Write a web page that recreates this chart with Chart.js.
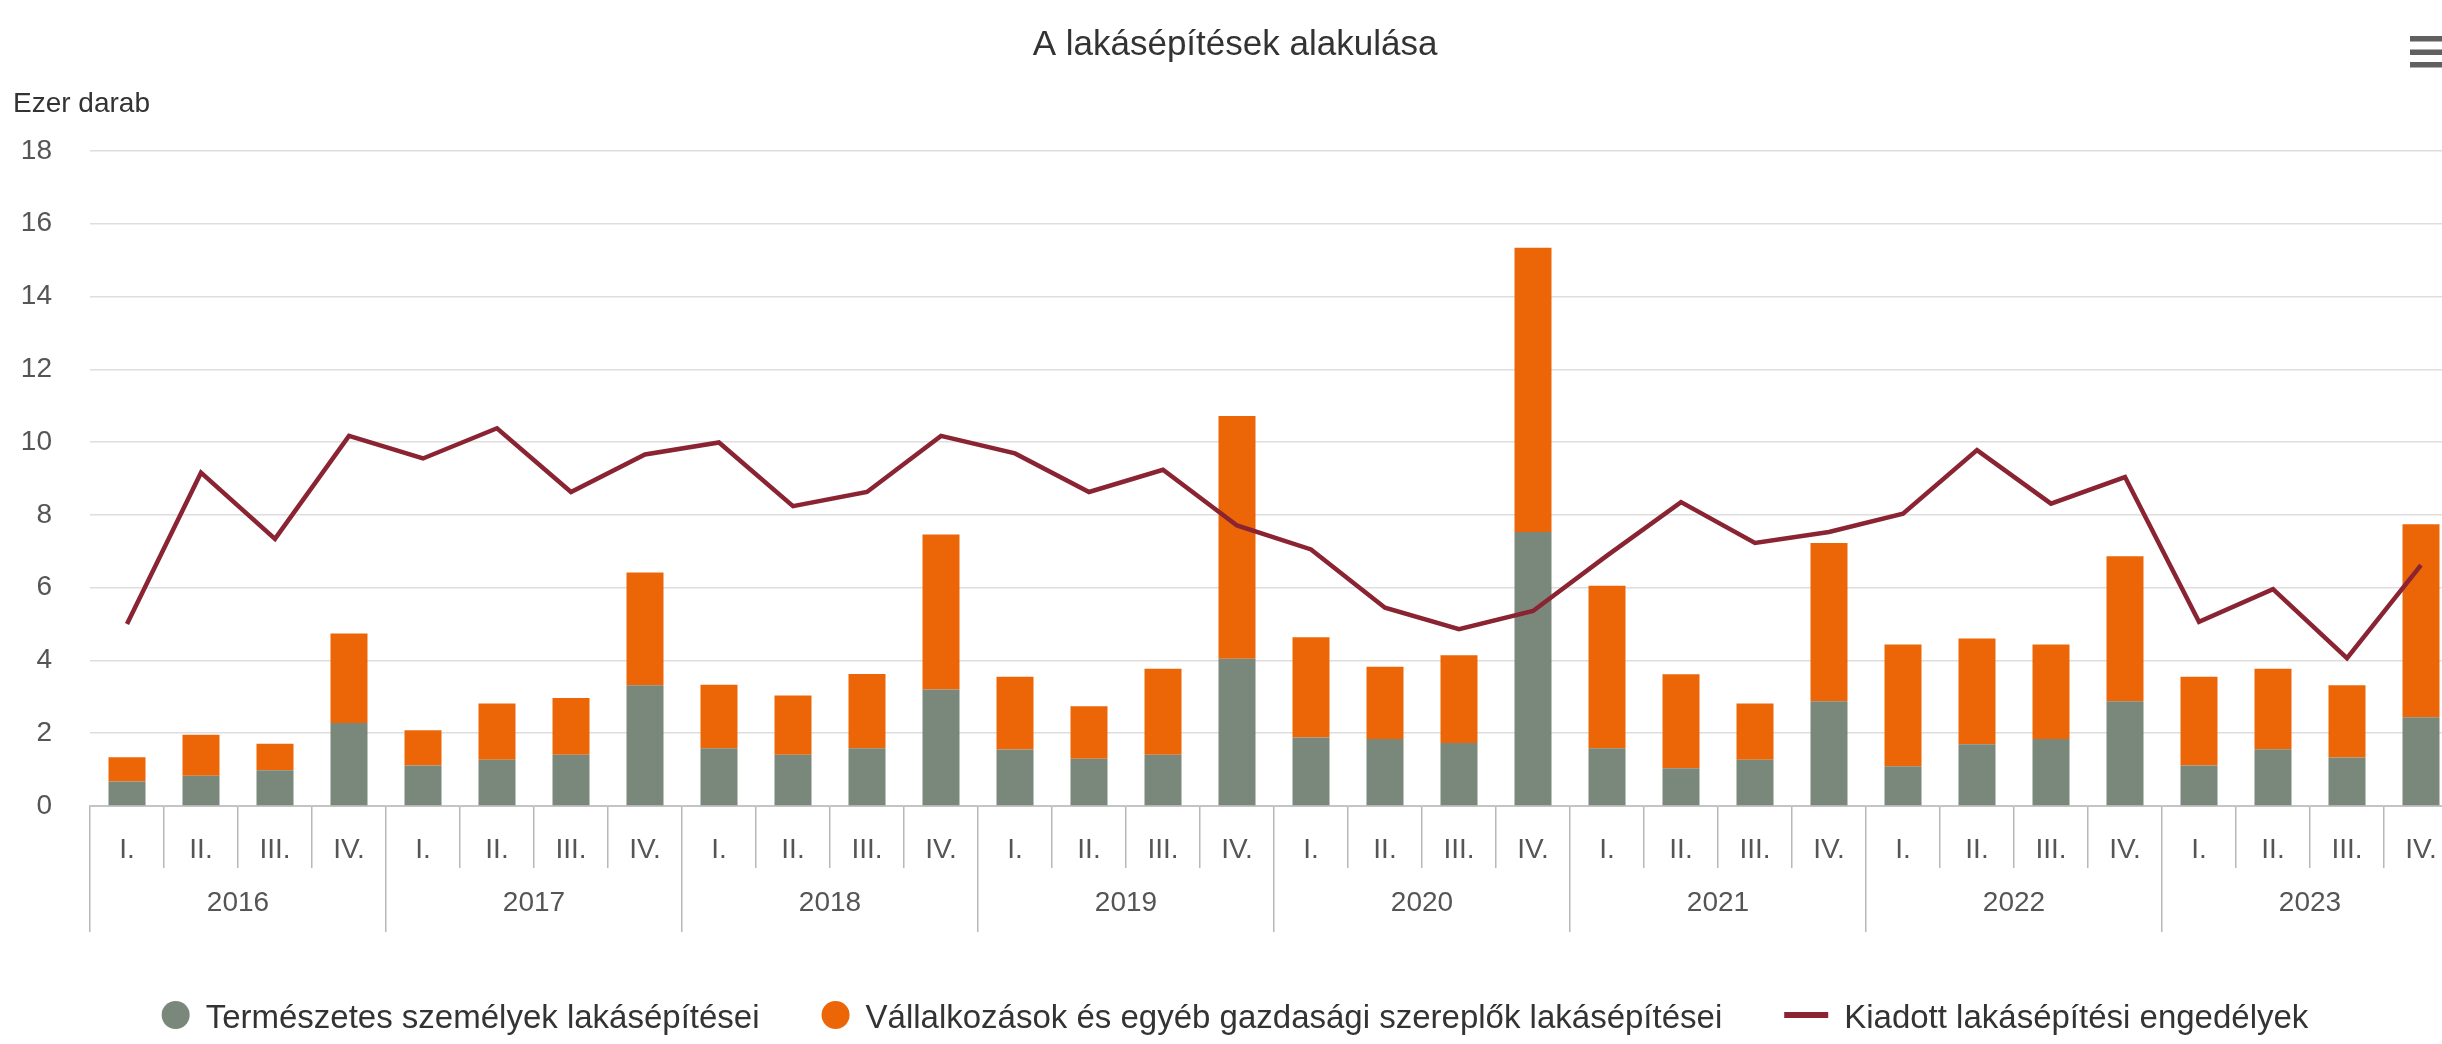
<!DOCTYPE html>
<html lang="hu">
<head>
<meta charset="utf-8">
<title>A lakásépítések alakulása</title>
<script src="https://cdn.jsdelivr.net/npm/chart.js@4.4.1/dist/chart.umd.min.js"></script>
<style>
  html, body { margin: 0; padding: 0; background: #ffffff; overflow: hidden; }
  #wrap { position: absolute; left: 0; top: 0; width: 2470px; height: 1044px; }
</style>
</head>
<body>
<div id="wrap"><canvas id="chart" width="2470" height="1044"></canvas></div>
<script>
// Évek és negyedévek
const years = ['2016', '2017', '2018', '2019', '2020', '2021', '2022', '2023'];
const quarters = ['I.', 'II.', 'III.', 'IV.'];

// Ezer darab, negyedévente (2016 I. – 2023 IV.)
const termeszetes = [
  0.67, 0.83, 0.98, 2.28,
  1.11, 1.27, 1.41, 3.32,
  1.59, 1.41, 1.59, 3.20,
  1.55, 1.30, 1.41, 4.05,
  1.88, 1.84, 1.73, 7.53,
  1.59, 1.04, 1.27, 2.88,
  1.09, 1.70, 1.84, 2.88,
  1.11, 1.56, 1.33, 2.44
];
const vallalkozasok = [
  0.67, 1.13, 0.73, 2.46,
  0.97, 1.55, 1.56, 3.10,
  1.74, 1.63, 2.04, 4.26,
  2.00, 1.44, 2.36, 6.67,
  2.76, 1.99, 2.41, 7.81,
  4.46, 2.58, 1.55, 4.35,
  3.35, 2.90, 2.60, 3.98,
  2.44, 2.21, 1.99, 5.30
];
const engedelyek = [
  5.00, 9.16, 7.34, 10.17,
  9.55, 10.38, 8.63, 9.66,
  9.99, 8.24, 8.63, 10.17,
  9.69, 8.63, 9.24, 7.71,
  7.05, 5.45, 4.86, 5.36,
  6.88, 8.35, 7.23, 7.53,
  8.03, 9.78, 8.31, 9.04,
  5.06, 5.96, 4.06, 6.62
];
const yMin = 0, yMax = 18, yStep = 2;

const seriesNames = [
  'Természetes személyek lakásépítései',
  'Vállalkozások és egyéb gazdasági szereplők lakásépítései',
  'Kiadott lakásépítési engedélyek'
];
const COLORS = { green: '#7a887c', orange: '#ec6608', line: '#8a2432' };
const FONT = '"Liberation Sans", Arial, Helvetica, sans-serif';

const labels = years.flatMap(() => quarters);

// Cím, mértékegység, jelmagyarázat és menü ikon kirajzolása
const decorations = {
  id: 'decorations',
  afterDraw(chart) {
    const ctx = chart.ctx;
    const cx = chart.width / 2;
    ctx.save();

    // cím
    ctx.fillStyle = '#333333';
    ctx.font = '35px ' + FONT;
    ctx.textAlign = 'center';
    ctx.textBaseline = 'alphabetic';
    ctx.fillText('A lakásépítések alakulása', cx, 55);

    // mértékegység
    ctx.font = '28px ' + FONT;
    ctx.textAlign = 'left';
    ctx.fillText('Ezer darab', 13, 112);

    // menü ikon
    ctx.fillStyle = '#606060';
    [36, 49.5, 62].forEach(y => ctx.fillRect(2410, y, 36, 5.5));

    // jelmagyarázat
    ctx.font = '33px ' + FONT;
    const items = [
      { text: seriesNames[0], color: COLORS.green, kind: 'circle', w: 28 },
      { text: seriesNames[1], color: COLORS.orange, kind: 'circle', w: 28 },
      { text: seriesNames[2], color: COLORS.line, kind: 'line', w: 44 }
    ];
    const gap = 16, spacing = 62;
    items.forEach(it => { it.tw = ctx.measureText(it.text).width; });
    const total = items.reduce((s, it) => s + it.w + gap + it.tw, 0) + spacing * (items.length - 1);
    let x = cx - total / 2;
    const my = 1015, baseY = 1028;
    items.forEach(it => {
      ctx.fillStyle = it.color;
      if (it.kind === 'circle') {
        ctx.beginPath();
        ctx.arc(x + it.w / 2, my, it.w / 2, 0, Math.PI * 2);
        ctx.fill();
      } else {
        ctx.fillRect(x, my - 3, it.w, 6);
      }
      ctx.fillStyle = '#333333';
      ctx.textAlign = 'left';
      ctx.fillText(it.text, x + it.w + gap, baseY);
      x += it.w + gap + it.tw + spacing;
    });
    ctx.restore();
  }
};

new Chart(document.getElementById('chart'), {
  data: {
    labels: labels,
    datasets: [
      {
        type: 'line',
        label: seriesNames[2],
        data: engedelyek,
        borderColor: COLORS.line,
        backgroundColor: COLORS.line,
        borderWidth: 4.5,
        pointRadius: 0,
        tension: 0,
        stack: 'engedely',
        order: 0
      },
      {
        type: 'bar',
        label: seriesNames[0],
        data: termeszetes,
        backgroundColor: COLORS.green,
        stack: 'lakas',
        order: 1,
        categoryPercentage: 0.5,
        barPercentage: 1.0
      },
      {
        type: 'bar',
        label: seriesNames[1],
        data: vallalkozasok,
        backgroundColor: COLORS.orange,
        stack: 'lakas',
        order: 1,
        categoryPercentage: 0.5,
        barPercentage: 1.0
      }
    ]
  },
  options: {
    responsive: false,
    animation: false,
    devicePixelRatio: 1,
    layout: { padding: { top: 151, bottom: 112, left: 0, right: 12 } },
    plugins: {
      legend: { display: false },
      title: { display: false },
      tooltip: { enabled: false }
    },
    scales: {
      x: {
        type: 'category',
        position: 'bottom',
        stacked: true,
        offset: true,
        weight: 0,
        grid: {
          offset: true,
          drawOnChartArea: false,
          drawTicks: true,
          tickLength: 62,
          color: '#b8b8b8',
          lineWidth: 1.5
        },
        border: { display: true, color: '#c4c4c4', width: 2 },
        ticks: {
          autoSkip: false,
          maxRotation: 0,
          minRotation: 0,
          padding: -35,
          color: '#555555',
          font: { family: FONT, size: 28 }
        },
        afterFit(scale) { scale.height = 62; }
      },
      x2: {
        type: 'category',
        position: 'bottom',
        labels: years,
        offset: true,
        weight: 1,
        grid: {
          offset: true,
          drawOnChartArea: false,
          drawTicks: true,
          tickLength: 64,
          color: '#b8b8b8',
          lineWidth: 1.5
        },
        border: { display: false },
        ticks: {
          autoSkip: false,
          maxRotation: 0,
          minRotation: 0,
          padding: -46,
          color: '#555555',
          font: { family: FONT, size: 28 }
        },
        afterFit(scale) { scale.height = 64; }
      },
      y: {
        type: 'linear',
        stacked: true,
        min: yMin,
        max: yMax,
        grid: { color: '#dedede', lineWidth: 1.5, drawTicks: false },
        border: { display: false },
        ticks: {
          stepSize: yStep,
          padding: 38,
          color: '#555555',
          font: { family: FONT, size: 28 }
        },
        afterFit(scale) { scale.width = 90; }
      }
    }
  },
  plugins: [decorations]
});
</script>
</body>
</html>
